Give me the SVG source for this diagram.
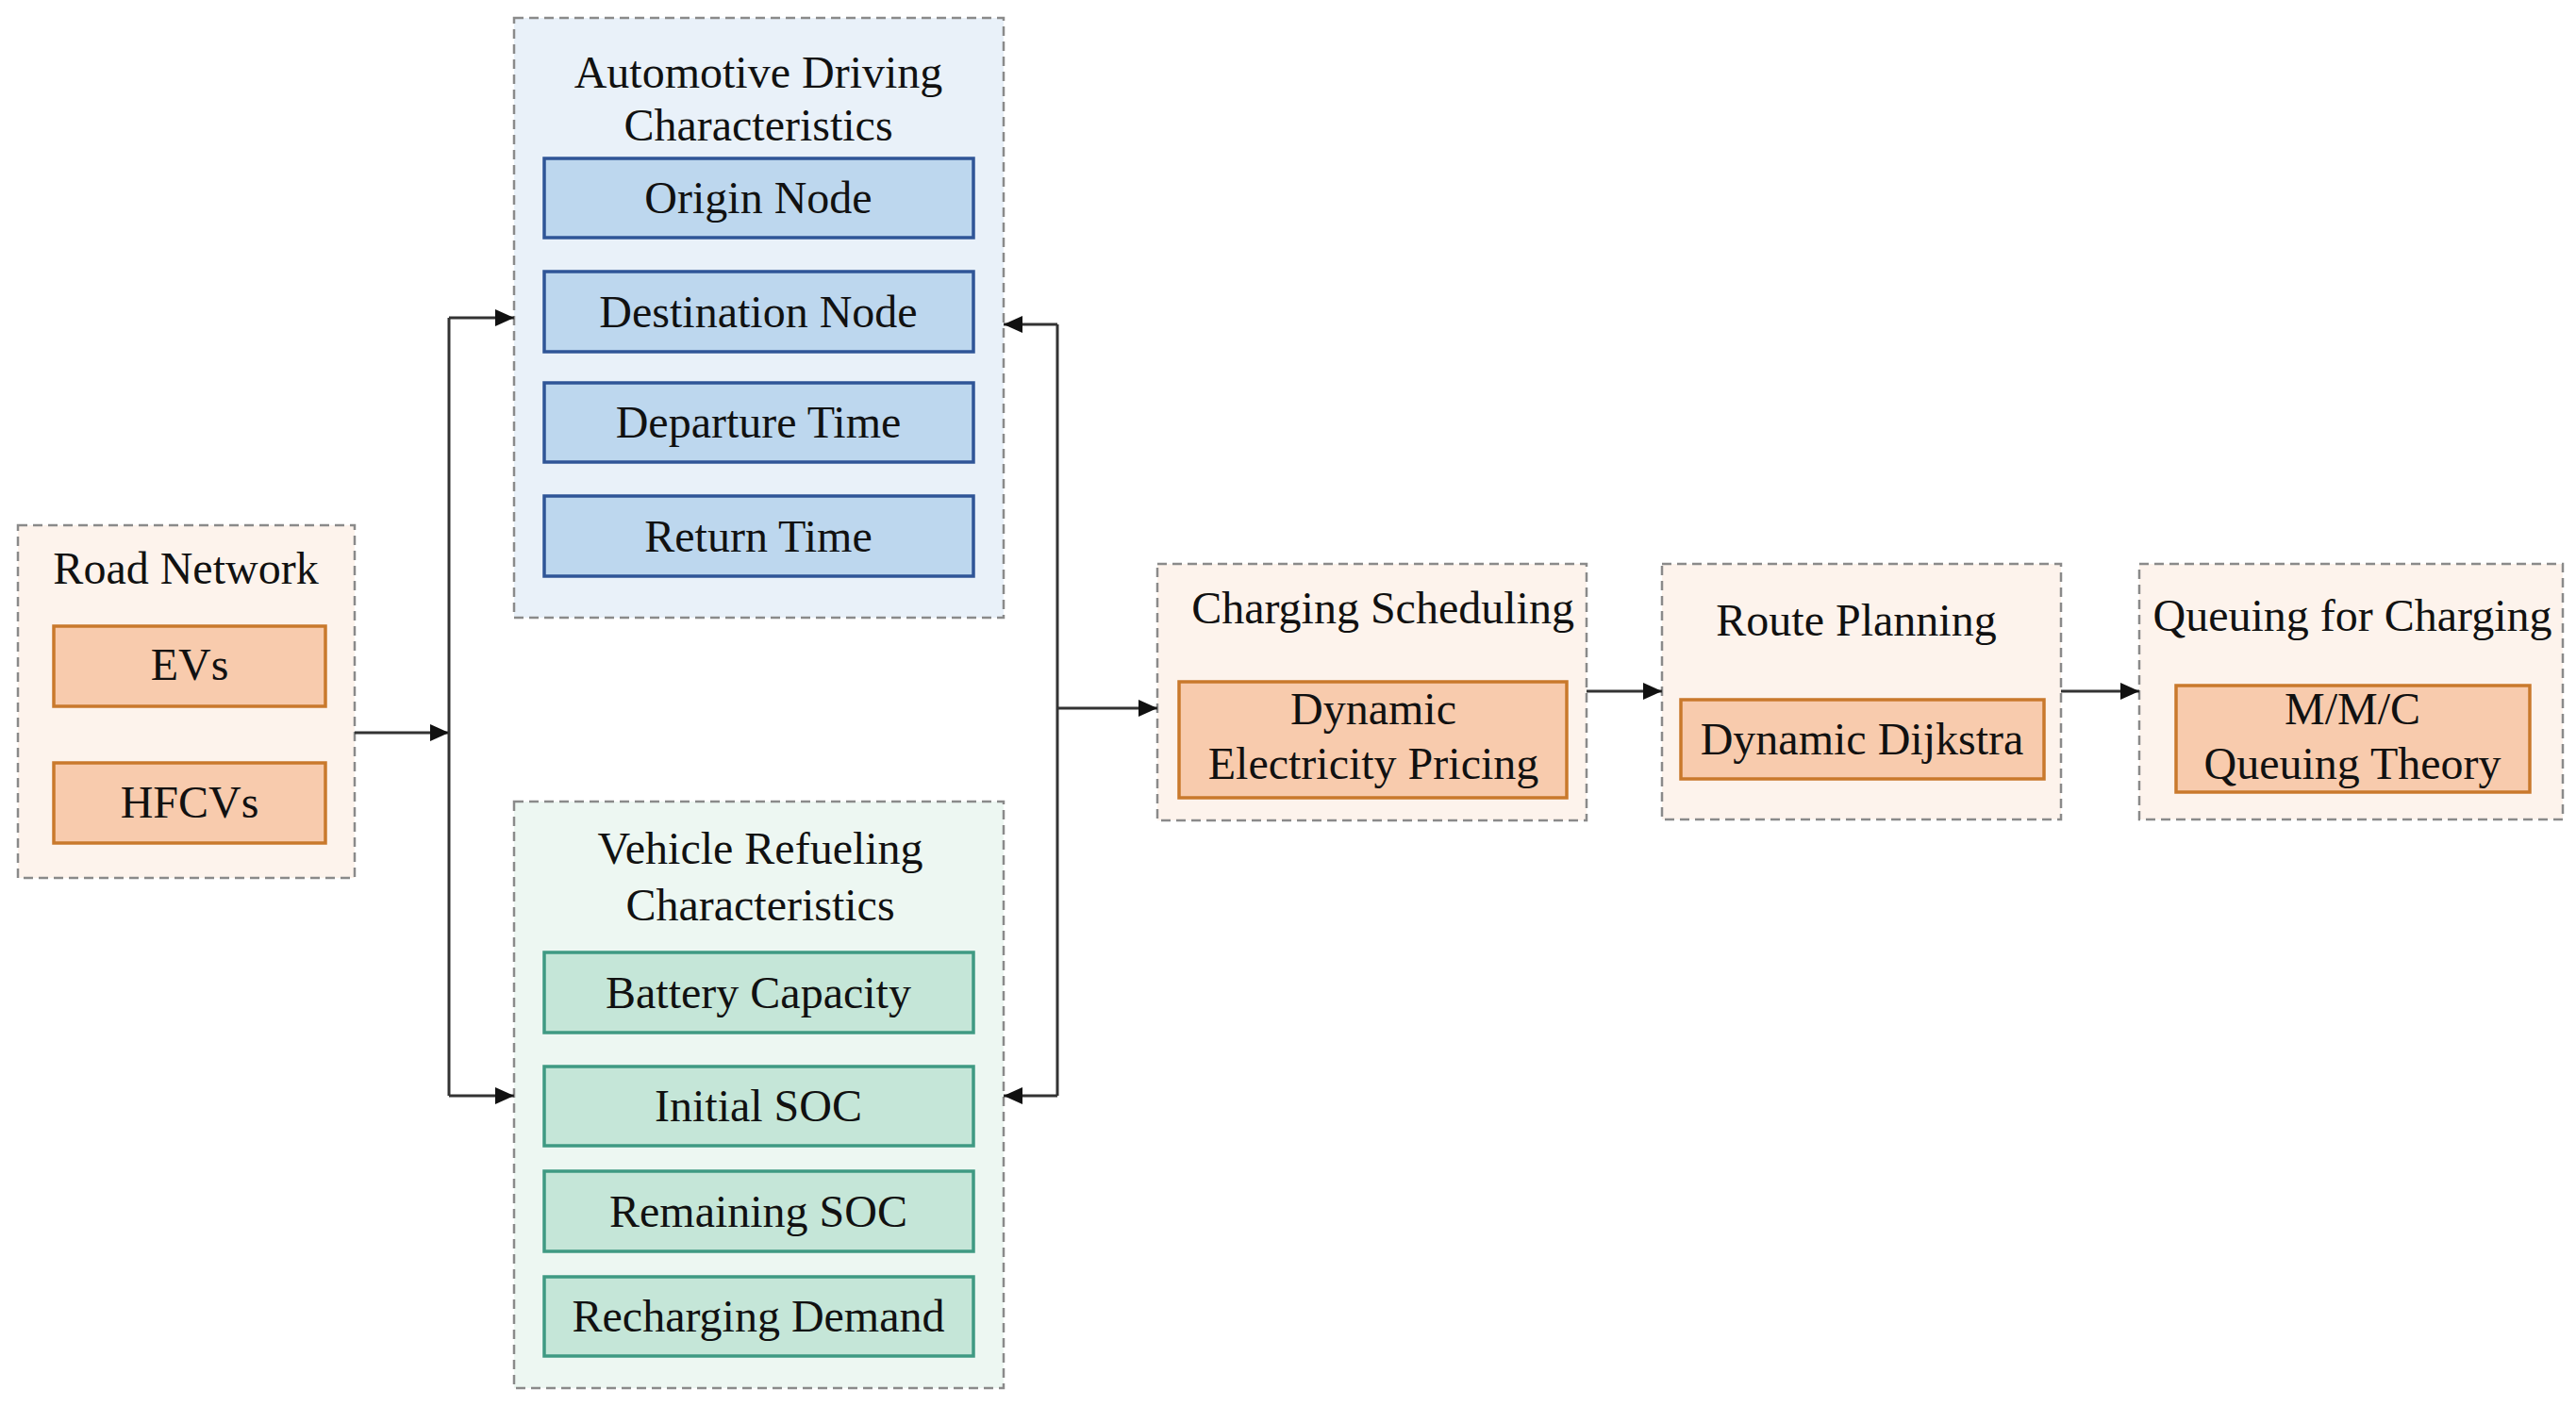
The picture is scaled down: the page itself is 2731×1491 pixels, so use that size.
<svg xmlns="http://www.w3.org/2000/svg" width="2731" height="1491" viewBox="0 0 2731 1491">
<style>
text{font-family:"Liberation Serif","Times New Roman",serif;font-size:48px;fill:#111;text-anchor:middle}
.grp{stroke:#8a8a8a;stroke-width:2.5;stroke-dasharray:10 6}
.peach{fill:#fdf3ec}
.lblue{fill:#e9f1f9}
.lgreen{fill:#edf7f2}
.or{fill:#f8cbad;stroke:#c9792c;stroke-width:3.5}
.bl{fill:#bdd7ee;stroke:#2f5597;stroke-width:3.5}
.gr{fill:#c5e6d8;stroke:#3f9a83;stroke-width:3.5}
.con{fill:none;stroke:#333;stroke-width:3}
</style>
<defs>
<marker id="ah" markerUnits="userSpaceOnUse" markerWidth="20" markerHeight="18" refX="20" refY="9" orient="auto">
<path d="M0,0 L20,9 L0,18 Z" fill="#111"/>
</marker>
</defs>
<rect width="2731" height="1491" fill="#fff"/>

<g id="road-network">
<rect class="grp peach" x="19" y="557" width="357" height="374"/>
<text x="197" y="619">Road Network</text>
<rect class="or" x="57" y="664" width="288" height="85"/>
<text x="201" y="721">EVs</text>
<rect class="or" x="57" y="809" width="288" height="85"/>
<text x="201" y="867">HFCVs</text>
</g>

<g id="automotive-driving">
<rect class="grp lblue" x="545" y="19" width="519" height="636"/>
<text x="804" y="93">Automotive Driving</text>
<text x="804" y="149">Characteristics</text>
<rect class="bl" x="577" y="168" width="455" height="84"/>
<text x="804" y="226">Origin Node</text>
<rect class="bl" x="577" y="288" width="455" height="85"/>
<text x="804" y="347">Destination Node</text>
<rect class="bl" x="577" y="406" width="455" height="84"/>
<text x="804" y="464">Departure Time</text>
<rect class="bl" x="577" y="526" width="455" height="85"/>
<text x="804" y="585">Return Time</text>
</g>

<g id="vehicle-refueling">
<rect class="grp lgreen" x="545" y="850" width="519" height="622"/>
<text x="806" y="916">Vehicle Refueling</text>
<text x="806" y="976">Characteristics</text>
<rect class="gr" x="577" y="1010" width="455" height="85"/>
<text x="804" y="1069">Battery Capacity</text>
<rect class="gr" x="577" y="1131" width="455" height="84"/>
<text x="804" y="1189">Initial SOC</text>
<rect class="gr" x="577" y="1242" width="455" height="85"/>
<text x="804" y="1301">Remaining SOC</text>
<rect class="gr" x="577" y="1354" width="455" height="84"/>
<text x="804" y="1412">Recharging Demand</text>
</g>

<g id="charging-scheduling">
<rect class="grp peach" x="1227" y="598" width="455" height="272"/>
<text x="1466" y="661">Charging Scheduling</text>
<rect class="or" x="1250" y="723" width="411" height="123"/>
<text x="1456" y="768">Dynamic</text>
<text x="1456" y="826">Electricity Pricing</text>
</g>

<g id="route-planning">
<rect class="grp peach" x="1762" y="598" width="423" height="271"/>
<text x="1968" y="674">Route Planning</text>
<rect class="or" x="1782" y="742" width="385" height="84"/>
<text x="1974" y="800">Dynamic Dijkstra</text>
</g>

<g id="queuing">
<rect class="grp peach" x="2268" y="598" width="449" height="271"/>
<text x="2494" y="669">Queuing for Charging</text>
<rect class="or" x="2307" y="727" width="375" height="113"/>
<text x="2494" y="768">M/M/C</text>
<text x="2494" y="826">Queuing Theory</text>
</g>

<g id="connectors">
<path class="con" d="M376,777 H476" marker-end="url(#ah)"/>
<path class="con" d="M476,337 V1162"/>
<path class="con" d="M476,337 H545" marker-end="url(#ah)"/>
<path class="con" d="M476,1162 H545" marker-end="url(#ah)"/>
<path class="con" d="M1121,344 V1162"/>
<path class="con" d="M1121,344 H1064" marker-end="url(#ah)"/>
<path class="con" d="M1121,1162 H1064" marker-end="url(#ah)"/>
<path class="con" d="M1121,751 H1227" marker-end="url(#ah)"/>
<path class="con" d="M1682,733 H1762" marker-end="url(#ah)"/>
<path class="con" d="M2185,733 H2268" marker-end="url(#ah)"/>
</g>
</svg>
